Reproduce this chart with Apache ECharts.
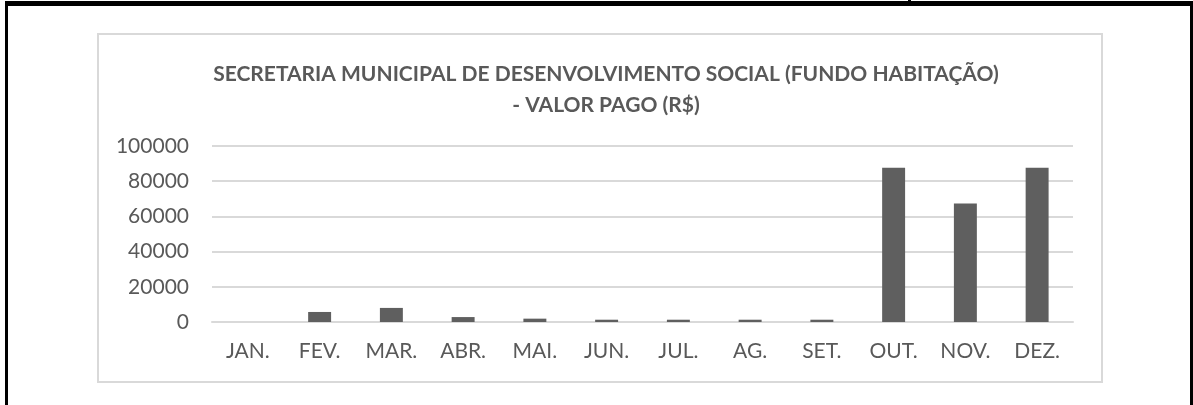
<!DOCTYPE html>
<html>
<head>
<meta charset="utf-8">
<script src="https://cdn.jsdelivr.net/npm/echarts@6/dist/echarts.min.js"></script>
<style>
  html, body { margin: 0; padding: 0; background: #fff; }
  #wrap { position: relative; width: 1193px; height: 405px; overflow: hidden; }
  .bl { position: absolute; background: #000; }
  #box { position: absolute; left: 97px; top: 33px; width: 1002px; height: 346px; border: 2px solid #d9d9d9; }
  #chart { position: absolute; left: 0; top: 0; width: 1193px; height: 405px; }
</style>
</head>
<body>
<div id="wrap">
  <div class="bl" style="left:5px;top:1px;width:1188px;height:5px"></div>
  <div class="bl" style="left:5px;top:1px;width:3px;height:404px"></div>
  <div class="bl" style="left:1190px;top:1px;width:3px;height:404px"></div>
  <div class="bl" style="left:908px;top:0;width:3px;height:4px"></div>
  <div id="box"></div>
  <div id="chart"></div>
</div>
<script>
var meses = ['JAN.', 'FEV.', 'MAR.', 'ABR.', 'MAI.', 'JUN.', 'JUL.', 'AG.', 'SET.', 'OUT.', 'NOV.', 'DEZ.'];
var valorPago = [0, 5700, 8000, 2800, 1900, 1300, 1300, 1300, 1300, 87700, 67400, 87700];
var titulo = 'SECRETARIA MUNICIPAL DE DESENVOLVIMENTO SOCIAL (FUNDO HABITAÇÃO)\n- VALOR PAGO (R$)';

var mChart = echarts.init(document.getElementById('chart'));
mChart.setOption({
    animation: false,
    title: {
        text: titulo,
        left: 601,
        top: 54,
        textAlign: 'center',
        textStyle: {
            fontFamily: 'Lato',
            fontSize: 21,
            fontWeight: 'bold',
            color: '#595959',
            lineHeight: 31
        }
    },
    grid: { left: 212, right: 120, top: 146, bottom: 83 },
    xAxis: {
        type: 'category',
        data: meses,
        axisLine: { lineStyle: { color: '#d9d9d9', width: 2 } },
        axisTick: { show: false },
        axisLabel: { color: '#595959', fontFamily: 'Lato', fontSize: 21, margin: 19 }
    },
    yAxis: {
        type: 'value',
        min: 0,
        max: 100000,
        interval: 20000,
        axisLine: { show: false },
        axisTick: { show: false },
        splitLine: { lineStyle: { color: '#d9d9d9', width: 2 } },
        axisLabel: {
            color: '#595959', fontFamily: 'Lato', fontSize: 21, margin: 23,
            formatter: function (v) { return String(v); }
        }
    },
    series: [{
        type: 'bar',
        data: valorPago,
        barWidth: '32%',
        itemStyle: { color: '#5f5f5f' }
    }]
});
</script>
</body>
</html>
